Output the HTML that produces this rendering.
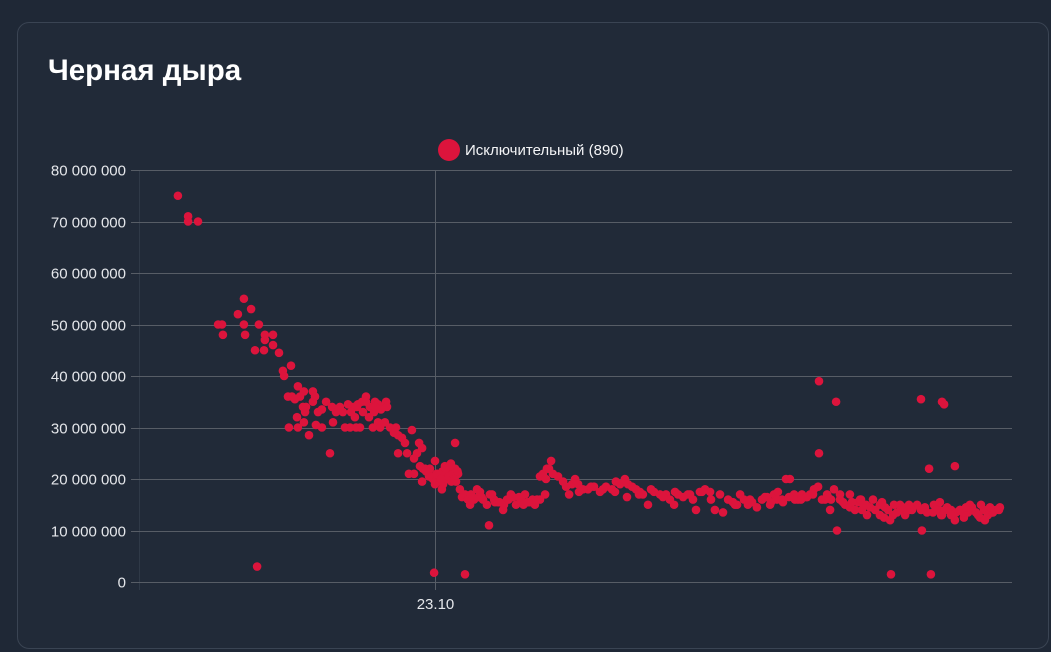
<!DOCTYPE html>
<html><head><meta charset="utf-8"><style>
html,body{margin:0;padding:0;background:#1f2836;width:1051px;height:652px;overflow:hidden;font-family:"Liberation Sans","Noto Sans CJK SC",sans-serif}
#card{position:absolute;left:17px;top:22px;width:1030px;height:625px;border:1px solid #3a4453;border-radius:12px;background:#212a38}
#title{position:absolute;left:30px;top:31px;color:#fff;font-size:29.5px;font-weight:bold;margin:0}
svg{position:absolute;left:0;top:0}
</style></head><body>
<div id="card"><h1 id="title">Черная дыра</h1></div>
<svg id="chart" width="1051" height="652"></svg>
<script>
const yTicks=[0,10,20,30,40,50,60,70,80];
const xTickValues=[0];
const xTickLabels=["23.10"];
const legendLabel="Исключительный (890)";
const xDays=[-8.57,-8.23,-8.23,-7.9,-7.23,-7.1,-7.07,-6.57,-6.37,-6.37,-6.33,-6.13,-6.0,-5.87,-5.67,-5.67,-5.7,-5.4,-5.4,-5.2,-5.93,
-5.07,-5.03,-4.8,-4.57,-4.9,-4.77,-4.67,-4.5,-4.37,-4.07,-4.3,-4.33,-4.6,-4.87,-4.57,-4.37,-4.2,-4.07,-3.97,-3.77,-3.5,-3.4,-3.77,-3.9,-3.63,
-3.43,-3.3,-3.17,-3.0,-2.83,-2.73,-2.57,-2.43,-2.3,-2.17,-2.0,-1.9,-1.77,-1.63,-3.07,-2.9,-2.67,-2.4,-2.2,-2.03,-2.63,-2.5,-2.07,-1.9,
-1.83,-1.67,-1.5,-1.37,-1.3,-1.23,-1.1,-1.0,-0.77,-0.93,-1.23,-0.87,-0.7,-0.6,-0.53,-0.43,-0.5,-0.7,-0.43,-0.4,-0.33,-0.17,0,-0.1,0.07,0.17,0.3,0.43,0.53,0.67,0.77,0.27,0.5,0.7,0.33,0.67,0,-0.07,0.83,0.9,1.0,1.1,1.17,1.3,1.4,1.5,1.6,1.73,1.83,1.97,2.1,2.27,2.4,2.53,2.7,2.87,3.0,3.17,3.33,3.5,3.67,1.8,0.23,1.0,-0.03,
0.2,0.4,0.6,0.1,0.35,0.55,1.2,1.45,2.0,2.3,2.6,2.95,3.25,
0.15,0.25,0.45,0.6,0.75,0.05,0.35,0.5,0.2,0.65,-0.2,-0.3,1.25,1.55,1.9,2.15,2.45,2.8,3.1,3.4,-2.6,-2.3,-2.0,-1.8,-1.6,-2.8,-3.2,-4.0,-4.4,
3.5,3.6,3.73,3.87,3.7,3.93,4.1,3.8,
4.27,4.37,4.47,4.57,4.67,4.77,4.93,5.1,5.3,5.5,5.7,5.9,6.03,6.17,6.33,6.43,6.57,6.7,6.83,6.93,7.1,7.3,7.5,7.7,7.83,7.97,8.1,8.27,8.43,8.6,8.7,8.83,9.0,9.17,9.33,9.6,9.77,9.93,10.07,10.17,10.3,10.43,10.57,10.73,10.9,11.07,11.17,11.3,11.43,11.57,11.7,11.83,11.97,12.1,12.23,12.37,12.5,12.63,12.77,12.8,12.8,12.9,13.07,13.2,13.37,13.4,13.3,13.5,13.67,13.83,14.0,14.1,14.23,14.37,14.5,14.67,14.83,14.97,15.1,15.2,15.27,15.4,15.53,15.67,15.8,15.93,16.07,16.2,16.23,16.33,16.47,16.53,16.63,16.8,16.87,16.9,16.97,17.07,17.2,17.33,17.37,17.5,17.63,17.77,17.9,18.03,18.17,18.3,18.43,18.57,18.7,18.83,14.83,14.17,15.5,16.83,17.83,15.17,17.33,18.33,13.83,13.17,
10.0,10.5,11.0,11.6,12.0,12.4,13.0,13.6,14.3,15.0,15.7,16.4,17.0,17.6,18.1,18.6,
11.2,11.4,11.8,12.2,12.6,13.1,13.5,13.9,14.2,14.6,14.9,15.3,15.6,15.9,16.2,16.6,16.9,17.2,17.5,17.9,18.2,18.5,18.8,14.4,15.8,16.7,17.7,9.5,9.2,8.9,8.5,8.0,7.6,7.2,6.8,6.4,6.0,5.6,5.2,4.8];
const yValues=[75,71,70,70,50,50,48,52,55,50,48,53,45,50,48,47,45,48,46,44.5,3,
41,40,42,38,36,36,35.5,36,37,37,34,33,32,30,30,31,28.5,35,30.5,30,25,31,33.5,33,35,
34,33,34,30,30,34,34.5,35,36,34,35,34.5,34,35,33,34.5,32,33,32,33,30,30,30,31,
30,31,30,29,30,28.5,28,27,29.5,25,25,21,24,25,27,26,22.5,21,19.5,22,22,22,23.5,20.5,21,20,21,22,23,22,21,19,20,19.5,22.5,27,19,20,18,16.5,17,16,15,16,18,17.5,16,15,17,16,15.5,14,16,17,15,16,17,15.5,15,16,17,11,18,1.5,1.8,
21,20,22,20.5,21.5,19.5,17,16.5,15.5,15,16.5,15,16,
20.5,21.5,20.5,21,21.5,21,22,22.5,20,20,20.5,21.5,16,16.5,17,15.5,16,16.5,15.5,16,34,35,34,33.5,34,33,33.5,36,34,
20.5,21,22,23.5,20,21,20.5,22,
19.5,18.5,17,19,20,19,18,18,18.5,17.5,18.5,18,19.5,19,20,19,18.5,18,17.5,17,15,17.5,17,17,16,15,17,16.5,17,16,14,17.5,18,17.5,14,13.5,16,15.5,15,17,16,15,15.5,14.5,16,16.5,15,17,17.5,16,20,20,17,16,17,16.5,17,18,18.5,39,25,16,17,16,35,10,18,16,15,14.5,14,15.5,14,15,14.5,14,13,12.5,14,1.5,13,13.5,14,13,14,14.5,15,35.5,10,14.5,22,1.5,15,14,13,35,34.5,14.5,14,22.5,13.5,14,12.5,13.5,14,13.5,12.5,14,13,13.5,14,14.5,15,16,15,15.5,15,12,12,12,17,14,
15,16,16.5,15.5,16,16.5,16,15.5,15,14.5,14,13.5,14,13.5,13,13.5,
15.5,16,16.5,16,17,16.5,17,15.5,16,16,15.5,15,14.5,14,14,13.5,13,13,14,14.5,15,14.5,14,13,15,14,14.5,17,16,17.5,17,17.5,16.5,18,17,16.5,17.5,18,18.5,17.5];
const NS='http://www.w3.org/2000/svg';
const svg=document.getElementById('chart');
const X0=140,X1=1012,Y0=582,Y1=170;
function xs(d){return 435+d*30;}
function ys(v){return Y0-(v/80)*(Y0-Y1);}
function mk(t,a){const e=document.createElementNS(NS,t);for(const k in a)e.setAttribute(k,a[k]);svg.appendChild(e);return e;}
const axis=mk('line',{x1:139.5,x2:139.5,y1:Y1,y2:Y0+8,stroke:'#2f3947','stroke-width':1});


yTicks.forEach(v=>{
  const y=Math.round(ys(v))+0.5;
  const l=mk('line',{x1:131,x2:X1,y1:y,y2:y,stroke:'#575d66','stroke-width':1});
  
  
  const t=mk('text',{x:126,y:y+5,'text-anchor':'end',fill:'#e5e7eb','font-size':15,'font-family':'Liberation Sans, sans-serif'});
  t.textContent=(v===0?'0':v+' 000 000');
  
  
});
xTickValues.forEach((d,i)=>{
  const x=Math.round(xs(d))+0.5;
  const l=mk('line',{x1:x,x2:x,y1:Y1,y2:Y0+8,stroke:'#575d66','stroke-width':1});
  
  
  const t=mk('text',{x:x,y:609,'text-anchor':'middle',fill:'#e5e7eb','font-size':15,'font-family':'Liberation Sans, sans-serif'});
  t.textContent=xTickLabels[i];
  
  
});
for(let i=0;i<xDays.length;i++){
  const c=mk('circle',{cx:xs(xDays[i]),cy:ys(yValues[i]),r:4.3,fill:'#dc143c'});
  
  
}
const lc=mk('circle',{cx:449,cy:150,r:11,fill:'#dc143c'});


const lt=mk('text',{x:465,y:155,fill:'#f3f4f6','font-size':15,'font-family':'Liberation Sans, sans-serif'});
lt.textContent=legendLabel;


</script>
</body></html>
